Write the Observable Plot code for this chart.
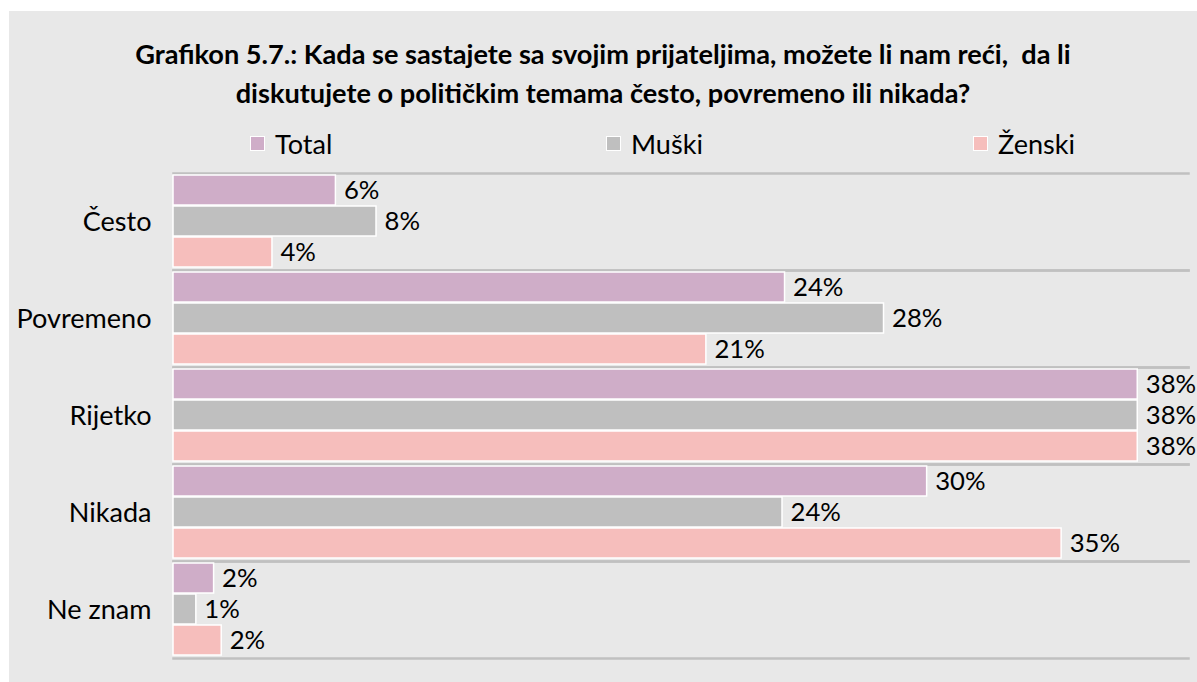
<!DOCTYPE html>
<html>
<head>
<meta charset="utf-8">
<script src="https://cdn.jsdelivr.net/npm/d3@7"></script>
<script src="https://cdn.jsdelivr.net/npm/@observablehq/plot@0.6"></script>
<style>
  html, body { margin: 0; padding: 0; background: #ffffff; }
  #page { position: relative; width: 1197px; height: 682px; overflow: hidden; font-family: Lato, "Open Sans", sans-serif; }
  #panel { position: absolute; left: 9px; top: 11px; width: 1188px; height: 671px; background: #e8e8e8; }
  #title { position: absolute; left: 9px; width: 1188px; top: 34px; text-align: center; font-weight: 700; color: #000; line-height: 39px; white-space: nowrap; }
  .leg { position: absolute; top: 127px; display: flex; align-items: center; color: #000; white-space: nowrap; }
  .sw { width: 13px; height: 13px; border: 1px solid #fff; margin-right: 10px; }
  #chart { position: absolute; left: 0; top: 160px; }
</style>
</head>
<body>
<div id="page">
  <div id="panel"></div>
  <div id="title"></div>
  <div id="legend"></div>
  <div id="chart"></div>
</div>
<script>
const titleLines = [
  "Grafikon 5.7.: Kada se sastajete sa svojim prijateljima, možete li nam reći,  da li",
  "diskutujete o političkim temama često, povremeno ili nikada?"
];
const categories = ["Često", "Povremeno", "Rijetko", "Nikada", "Ne znam"];
const series = ["Total", "Muški", "Ženski"];
const colors = ["#cfadc8", "#bfbfbf", "#f6bebc"];
const totalValues = [6.4, 24.1, 38, 29.7, 1.6];
const muskiValues = [8, 28, 38, 24, 0.9];
const zenskiValues = [3.9, 21, 38, 35, 1.9];

const valuesBySeries = [totalValues, muskiValues, zenskiValues];
const data = [];
categories.forEach((c, i) => {
  series.forEach((s, j) => {
    data.push({category: c, series: s, value: valuesBySeries[j][i]});
  });
});

// font sizing to mimic original Calibri widths
const ctx = document.createElement("canvas").getContext("2d");
function fitSize(text, weight, target) {
  ctx.font = `${weight} 100px Lato`;
  return 100 * target / ctx.measureText(text).width;
}
const titleSize = fitSize(titleLines[0], 700, 936);
const textSize = fitSize("Povremeno", 400, 135);

const title = document.getElementById("title");
title.style.fontSize = titleSize + "px";
title.innerHTML = titleLines.map(t => t.replace(/  /g, " &nbsp;")).join("<br>");

const legend = document.getElementById("legend");
const legendLeft = [250, 606, 973];
series.forEach((s, j) => {
  const item = document.createElement("div");
  item.className = "leg";
  item.style.left = legendLeft[j] + "px";
  item.style.fontSize = textSize + "px";
  item.innerHTML = `<div class="sw" style="background:${colors[j]}"></div><span>${s}</span>`;
  legend.appendChild(item);
});

const chart = Plot.plot({
  width: 1197,
  height: 522,
  marginTop: 11,
  marginBottom: 22,
  marginLeft: 173,
  marginRight: 9,
  style: {fontFamily: "Lato, sans-serif", fontSize: textSize + "px", color: "#000", background: "transparent", overflow: "visible"},
  x: {domain: [0, 40], axis: null},
  y: {domain: series, axis: null, paddingInner: 0.03, paddingOuter: 0.04},
  fy: {domain: categories, padding: 0, label: null, tickSize: 0, tickPadding: 22},
  color: {domain: series, range: colors},
  marks: [
    Plot.frame({anchor: "top", stroke: "#c0c0c0", strokeWidth: 2.5}),
    Plot.frame({anchor: "bottom", stroke: "#c0c0c0", strokeWidth: 2.5}),
    Plot.barX(data, {x: "value", y: "series", fy: "category", fill: "series", stroke: "#ffffff", strokeWidth: 1.5}),
    Plot.text(data, {x: "value", y: "series", fy: "category", text: d => Math.round(d.value) + "%", textAnchor: "start", dx: 8, fill: "#000", fontSize: textSize * 0.95})
  ]
});
document.getElementById("chart").appendChild(chart);
</script>
</body>
</html>
